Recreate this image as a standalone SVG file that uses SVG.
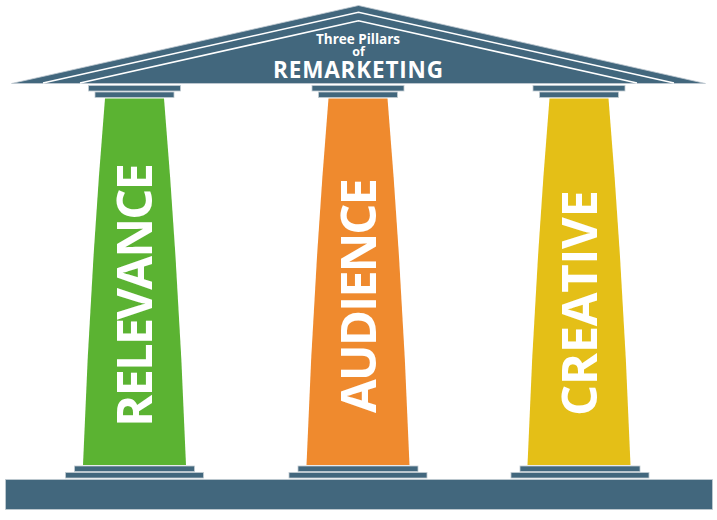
<svg xmlns="http://www.w3.org/2000/svg" width="717" height="520" viewBox="0 0 717 520">
<style>
.slate{fill:#42677D;stroke:#c3ccd3;stroke-width:0.8}
.ln{fill:none;stroke:#ffffff;stroke-width:1.6}
.t{font-family:"Open Sans","DejaVu Sans",sans-serif;font-weight:bold;fill:#ffffff;text-anchor:middle}
.pt{font-size:49px}
</style>
<rect width="717" height="520" fill="#ffffff"/>
<g id="roof">
<polygon class="slate" points="11.5,83.5 358.5,5.5 705.5,83.5"/>
<polyline class="ln" points="43,83 358.5,12.3 674,83"/>
<polyline class="ln" points="80,83 358.5,20.7 637,83"/>
<text class="t" x="358" y="43.5" font-size="13.5" textLength="84">Three Pillars</text>
<text class="t" x="358.5" y="55.5" font-size="12.5">of</text>
<text class="t" x="358" y="77.5" font-size="22.5" textLength="170">REMARKETING</text>
</g>
<g id="base">
<rect class="slate" x="5.5" y="479.5" width="707" height="30"/>
</g>
<g id="pillar-relevance">
<rect class="slate" x="88.5" y="85.5" width="92" height="5.5"/>
<rect class="slate" x="95" y="92" width="79" height="5.5"/>
<path d="M105,98.5 L164,98.5 Q179,280 186,465 L83,465 Q90,280 105,98.5 Z" fill="#5BB332"/>
<rect class="slate" x="74.5" y="466" width="120" height="5.5"/>
<rect class="slate" x="65.5" y="472.5" width="138" height="5.5"/>
<text class="t pt" transform="translate(152,295) rotate(-90)" textLength="264">RELEVANCE</text>
</g>
<g id="pillar-audience">
<rect class="slate" x="312" y="85.5" width="92" height="5.5"/>
<rect class="slate" x="318.5" y="92" width="79" height="5.5"/>
<path d="M328.5,98.5 L387.5,98.5 Q402.5,280 409.5,465 L306.5,465 Q313.5,280 328.5,98.5 Z" fill="#EF8A2E"/>
<rect class="slate" x="298" y="466" width="120" height="5.5"/>
<rect class="slate" x="289" y="472.5" width="138" height="5.5"/>
<text class="t pt" transform="translate(376,295.5) rotate(-90)" textLength="235">AUDIENCE</text>
</g>
<g id="pillar-creative">
<rect class="slate" x="533" y="85.5" width="92" height="5.5"/>
<rect class="slate" x="539.5" y="92" width="79" height="5.5"/>
<path d="M549.5,98.5 L608.5,98.5 Q623.5,280 630.5,465 L527.5,465 Q534.5,280 549.5,98.5 Z" fill="#E4BF17"/>
<rect class="slate" x="520" y="466" width="120" height="5.5"/>
<rect class="slate" x="511" y="472.5" width="138" height="5.5"/>
<text class="t pt" transform="translate(597,303) rotate(-90)" textLength="226">CREATIVE</text>
</g>
<g id="connectors"></g>
</svg>
